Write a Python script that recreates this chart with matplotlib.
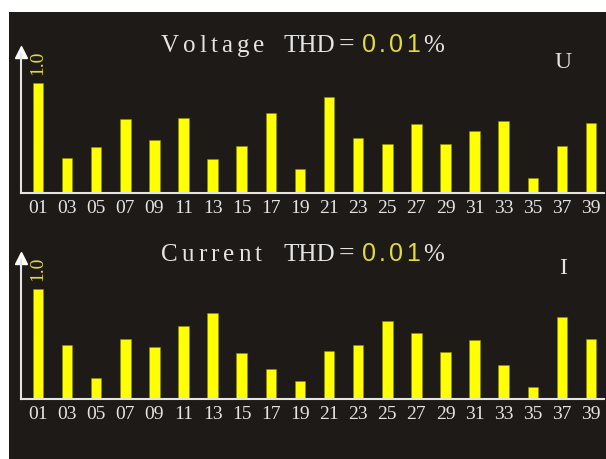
import matplotlib.pyplot as plt
import numpy as np

# harmonic orders and relative amplitudes (1.0 = fundamental)
orders = ["01", "03", "05", "07", "09", "11", "13", "15", "17", "19",
          "21", "23", "25", "27", "29", "31", "33", "35", "37", "39"]
voltage = [1.00, 0.32, 0.42, 0.67, 0.48, 0.68, 0.31, 0.43, 0.73, 0.22,
           0.87, 0.50, 0.45, 0.63, 0.45, 0.56, 0.65, 0.14, 0.43, 0.64]
current = [1.00, 0.49, 0.19, 0.55, 0.47, 0.66, 0.78, 0.42, 0.27, 0.16,
           0.44, 0.49, 0.71, 0.60, 0.43, 0.54, 0.31, 0.11, 0.75, 0.55]
panels = [("Voltage", "U", voltage), ("Current", "I", current)]

W, H = 606, 459
BG = "#1e1a17"
FG = "#e4e4e4"
YEL = "#ffff00"
YTXT = "#e2dc3a"
SERIF = ["Liberation Serif", "DejaVu Serif"]
SANS = ["Liberation Sans", "DejaVu Sans"]


def fx(x):
    return x / W


def fy(y):
    return 1 - y / H


fig = plt.figure(figsize=(W / 100, H / 100), dpi=100, facecolor="white")
fig.patches.append(plt.Rectangle((fx(9), 0), 1 - fx(9), fy(12), transform=fig.transFigure,
                                 facecolor=BG, edgecolor="none", zorder=-5))
renderer = fig.canvas.get_renderer()


def spaced(x0, y, s, gap, **kw):
    # draw s one glyph at a time, with extra gap (px) between glyphs
    x = x0
    for ch in s:
        t = fig.text(fx(x), fy(y), ch, ha="left", va="baseline", **kw)
        x += t.get_window_extent(renderer).width + gap
    return x


x = np.arange(len(orders))
step = (591 - 38) / 19
ytop = 146 / 110

for i, (name, sym, vals) in enumerate(panels):
    base = 193 + i * 206
    tip = base - 146
    ax = fig.add_axes([fx(21), fy(base), fx(604) - fx(21), (base - tip) / H])
    ax.set_facecolor("none")
    ax.bar(x, vals, width=0.36, color=YEL, edgecolor="#8a8a00", linewidth=0.4)
    ax.set_xlim(-(38 - 21) / step, 19 + (604 - 591) / step)
    ax.set_ylim(0, ytop)
    for s in ["top", "right"]:
        ax.spines[s].set_visible(False)
    for s in ["left", "bottom"]:
        ax.spines[s].set_color(FG)
        ax.spines[s].set_linewidth(1.5)
    ax.spines["left"].set_bounds(0, ytop - 0.06)
    ax.plot([ax.get_xlim()[0]], [ytop - 0.045], marker="^", color="white",
            markersize=9, clip_on=False)
    ax.set_yticks([])
    ax.set_xticks(x)
    ax.set_xticklabels(orders, fontsize=14, color=FG, family=SERIF)
    ax.tick_params(axis="x", length=0, pad=5)
    ax.text(0, 1.18, "1.0", rotation=90, ha="center", va="center", color=YTXT,
            fontsize=14, family=SERIF)

    yb = 52 + i * 209
    tk = dict(color=FG, fontsize=18, family=SERIF)
    spaced(161, yb, name, 4, **tk)
    fig.text(fx(283), fy(yb), "THD", ha="left", va="baseline", **tk)
    fig.text(fx(339), fy(yb), "=", ha="left", va="baseline", color=FG, fontsize=20, family=SERIF)
    spaced(362, yb, "0.01", 3, color=YTXT, fontsize=18, family=SANS)
    fig.text(fx(423), fy(yb), "%", ha="left", va="baseline", **tk)
    fig.text(fx(563), fy(62 + i * 206), sym, ha="center", va="center", color=FG,
             fontsize=17, family=SERIF)

fig.savefig("out.png", dpi=100, facecolor="white")
